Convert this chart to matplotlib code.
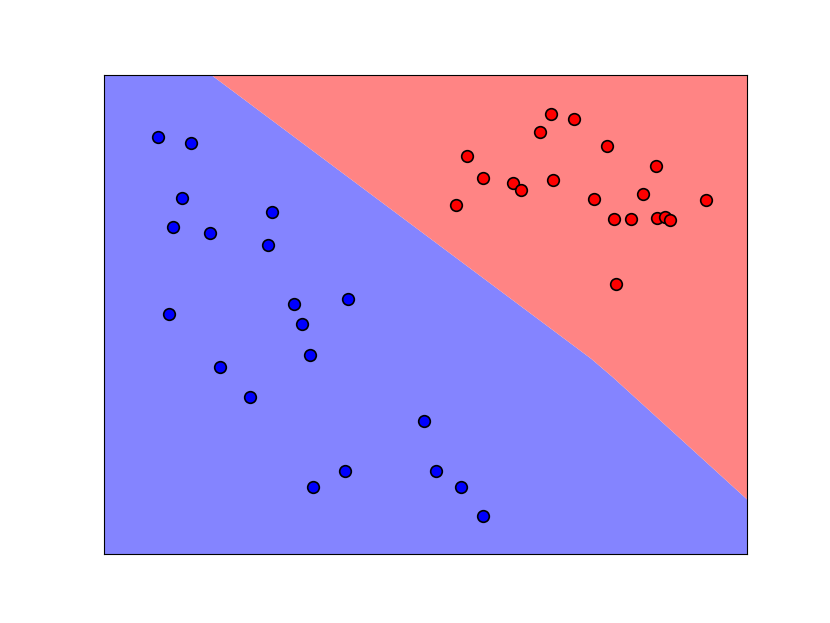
import numpy as np
import matplotlib
matplotlib.use('Agg')
import matplotlib.pyplot as plt

# Class 0 (blue) points
blue_x = [0.84, 1.36, 1.21, 1.07, 1.65, 2.62, 2.55, 1.01, 2.96, 3.80,
          3.08, 3.21, 1.81, 2.27, 4.98, 5.16, 3.75, 3.26, 5.56, 5.89]
blue_y = [8.71, 8.58, 7.43, 6.83, 6.70, 7.14, 6.45, 5.01, 5.22, 5.32,
          4.80, 4.15, 3.90, 3.28, 2.78, 1.73, 1.73, 1.40, 1.40, 0.81]

# Class 1 (red) points
red_x = [6.96, 7.31, 6.78, 7.82, 5.65, 8.58, 5.90, 6.36, 6.48, 6.99,
         8.38, 7.62, 9.36, 5.48, 7.93, 8.19, 8.60, 8.72, 8.80, 7.96]
red_y = [9.19, 9.08, 8.81, 8.52, 8.31, 8.10, 7.85, 7.75, 7.60, 7.81,
         7.52, 7.41, 7.39, 7.29, 6.99, 6.99, 7.01, 7.04, 6.97, 5.64]

# Decision boundary
bound_x = [0.0, 1.67, 7.57, 7.91, 10.0]
bound_y = [11.67, 10.0, 4.09, 3.70, 1.15]

fig = plt.figure(figsize=(8.3, 6.23), dpi=100)
ax = fig.add_subplot(111)

bx = np.array(bound_x)
by = np.array(bound_y)
ax.fill_between(bx, -1, by, color='#8484ff', linewidth=0)
ax.fill_between(bx, by, 12, color='#ff8484', linewidth=0)

ax.scatter(blue_x, blue_y, s=70, c='#0000ff', edgecolors='k', linewidths=1.2, zorder=3)
ax.scatter(red_x, red_y, s=70, c='#ff0000', edgecolors='k', linewidths=1.2, zorder=3)

ax.set_xlim(0, 10)
ax.set_ylim(0, 10)
ax.set_xticks([])
ax.set_yticks([])

fig.savefig('out.png', dpi=100)
